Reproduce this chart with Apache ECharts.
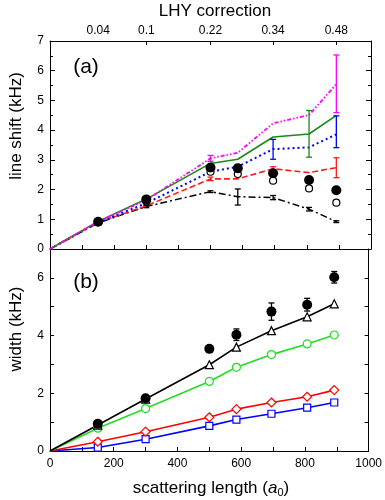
<!DOCTYPE html>
<html>
<head>
<meta charset="utf-8">
<script src="https://cdn.jsdelivr.net/npm/echarts@6/dist/echarts.min.js"></script>
<style>html,body{margin:0;padding:0;background:#fff}#c{width:385px;height:500px}</style>
</head>
<body>
<div id="c"></div>
<script>
// ---------- data ----------
const scatLen = [150, 300, 500, 585, 695, 807, 892];
const lineX = [0, 150, 300, 500, 585, 695, 807, 892];
const lhyTickPos = [150, 300, 500, 695, 892];
const lhyTickLabels = ['0.04', '0.1', '0.22', '0.34', '0.48'];
const lhyTickMarks = [300, 500, 695, 892];

// panel (a): line shift (kHz)
const shiftMeasured = [0.92, 1.67, 2.74, 2.72, 2.55, 2.32, 1.98];
const shiftMeasuredErr = [0.06, 0.08, 0.1, 0.12, 0.1, 0.1, 0.1];
const shiftOpen = [0.9, 1.6, 2.6, 2.52, 2.3, 2.04, 1.56];
const shiftMagenta = [0, 0.92, 1.65, 3.05, 3.24, 4.23, 4.51, 5.55];
const shiftGreen = [0, 0.93, 1.68, 2.88, 3.02, 3.77, 3.87, 4.5];
const shiftBlue = [0, 0.9, 1.54, 2.6, 2.77, 3.36, 3.42, 3.86];
const shiftRed = [0, 0.9, 1.45, 2.36, 2.36, 2.7, 2.57, 2.74];
const shiftBlack = [0, 0.88, 1.43, 1.93, 1.76, 1.73, 1.34, 0.92];
// error bars [x, low, high]
const magentaBars = [[500, 2.95, 3.15], [892, 4.59, 6.53]];
const greenBars = [[807, 3.09, 4.66]];
const blueBars = [[695, 3.02, 3.69], [892, 3.41, 4.48]];
const redBars = [[500, 2.3, 2.42], [695, 2.63, 2.77], [892, 2.4, 3.07]];
const blackBars = [[300, 1.39, 1.47], [500, 1.9, 1.96], [585, 1.48, 2.02], [695, 1.66, 1.8], [807, 1.28, 1.4], [892, 0.89, 0.95]];

// panel (b): width (kHz)
const widthMeasured = [0.94, 1.83, 3.54, 4.03, 4.83, 5.07, 6.02];
const widthMeasuredErr = [0.05, 0.08, 0.1, 0.2, 0.3, 0.22, 0.2];
const widthTriangle = [0, 0.9, 1.8, 2.99, 3.6, 4.17, 4.65, 5.1];
const widthGreen = [0, 0.79, 1.47, 2.41, 2.9, 3.34, 3.71, 4.02];
const widthRed = [0, 0.32, 0.67, 1.17, 1.45, 1.68, 1.88, 2.11];
const widthBlue = [0, 0.12, 0.41, 0.87, 1.09, 1.29, 1.5, 1.68];

// ---------- helpers ----------
const FONT = 'Liberation Sans, Arial, sans-serif';
const zip = (xs, ys) => xs.map((x, i) => [x, ys[i]]);
const zipMarked = (xs, ys) => xs.map((x, i) => i === 0 ? {value: [x, ys[i]], symbol: 'none'} : [x, ys[i]]);
const symBars = (xs, ys, es) => xs.map((x, i) => [x, ys[i] - es[i], ys[i] + es[i]]);

function errSeries(bars, color, xi, yi, z) {
  return {
    type: 'custom', xAxisIndex: xi, yAxisIndex: yi, z: z || 3, silent: true,
    data: bars,
    encode: {x: 0, y: [1, 2]},
    renderItem: function (params, api) {
      const x = api.value(0), lo = api.value(1), hi = api.value(2);
      const p1 = api.coord([x, lo]), p2 = api.coord([x, hi]);
      const w = 3;
      const st = {stroke: color, lineWidth: 1.3};
      return {type: 'group', children: [
        {type: 'line', shape: {x1: p1[0], y1: p1[1], x2: p2[0], y2: p2[1]}, style: st},
        {type: 'line', shape: {x1: p1[0] - w, y1: p1[1], x2: p1[0] + w, y2: p1[1]}, style: st},
        {type: 'line', shape: {x1: p2[0] - w, y1: p2[1], x2: p2[0] + w, y2: p2[1]}, style: st}
      ]};
    }
  };
}

function lineA(ys, color, type, width) {
  return {type: 'line', xAxisIndex: 0, yAxisIndex: 0, data: zip(lineX, ys), showSymbol: false,
    symbol: 'none', lineStyle: {color: color, type: type, width: width || 1.5}, z: 2, animation: false};
}
function lineB(ys, color, symbol, size) {
  return {type: 'line', xAxisIndex: 2, yAxisIndex: 2, data: zipMarked(lineX, ys),
    symbol: symbol, symbolSize: size, showSymbol: true,
    lineStyle: {color: color, width: 1.6}, itemStyle: {color: '#fff', borderColor: color, borderWidth: 1.2, opacity: 1},
    z: 2, animation: false};
}

const axisLine = {show: true, onZero: false, lineStyle: {color: '#000', width: 1}};
const lbl = {color: '#000', fontFamily: FONT, fontSize: 12};

const option = {
  animation: false,
  backgroundColor: '#fff',
  grid: [
    {left: 50, top: 41, width: 321, height: 208},
    {left: 50, top: 249, width: 321, height: 202}
  ],
  xAxis: [
    {gridIndex: 0, type: 'value', min: 0, max: 1000, interval: 100, position: 'bottom',
      axisLine: axisLine, axisTick: {inside: true, length: 4, lineStyle: {color: '#000'}},
      axisLabel: {show: false}, splitLine: {show: false}},
    {gridIndex: 0, type: 'value', min: 0, max: 1000, position: 'top',
      axisLine: axisLine,
      axisTick: {inside: true, length: 4, customValues: lhyTickMarks, lineStyle: {color: '#000'}},
      axisLabel: Object.assign({}, lbl, {margin: 4, customValues: lhyTickPos,
        formatter: v => lhyTickLabels[lhyTickPos.indexOf(v)] || ''}),
      splitLine: {show: false}},
    {gridIndex: 1, type: 'value', min: 0, max: 1000, interval: 100, position: 'bottom',
      axisLine: axisLine, axisTick: {inside: true, length: 4, lineStyle: {color: '#000'}},
      axisLabel: Object.assign({}, lbl, {margin: 7, formatter: v => (v % 200 === 0 ? String(v) : '')}),
      splitLine: {show: false}}
  ],
  yAxis: [
    {gridIndex: 0, type: 'value', min: 0, max: 7, interval: 1, position: 'left',
      axisLine: axisLine, axisTick: {inside: true, length: 5, lineStyle: {color: '#000'}},
      minorTick: {show: true, splitNumber: 2, length: 3, lineStyle: {color: '#000'}},
      axisLabel: Object.assign({}, lbl, {margin: 6}), splitLine: {show: false}},
    {gridIndex: 0, type: 'value', min: 0, max: 7, interval: 1, position: 'right',
      axisLine: axisLine, axisTick: {inside: true, length: 5, lineStyle: {color: '#000'}},
      minorTick: {show: true, splitNumber: 2, length: 3, lineStyle: {color: '#000'}},
      axisLabel: {show: false}, splitLine: {show: false}},
    {gridIndex: 1, type: 'value', min: 0, max: 7, interval: 1, position: 'left',
      axisLine: axisLine, axisTick: {inside: true, length: 4, lineStyle: {color: '#000'}},
      axisLabel: Object.assign({}, lbl, {margin: 6, formatter: v => (v % 2 === 0 ? String(v) : '')}),
      splitLine: {show: false}},
    {gridIndex: 1, type: 'value', min: 0, max: 7, interval: 1, position: 'right',
      axisLine: axisLine, axisTick: {inside: true, length: 4, lineStyle: {color: '#000'}},
      axisLabel: {show: false}, splitLine: {show: false}}
  ],
  graphic: [
    {type: 'text', x: 215, y: 11, style: {text: 'LHY correction', font: '17px ' + FONT, fill: '#000', textAlign: 'center', textVerticalAlign: 'middle'}},
    {type: 'text', x: 16, y: 126, rotation: Math.PI / 2, style: {text: 'line shift (kHz)', font: '17px ' + FONT, fill: '#000', textAlign: 'center', textVerticalAlign: 'middle'}},
    {type: 'text', x: 16, y: 329, rotation: Math.PI / 2, style: {text: 'width (kHz)', font: '17px ' + FONT, fill: '#000', textAlign: 'center', textVerticalAlign: 'middle'}},
    {type: 'text', x: 86, y: 67, style: {text: '(a)', font: '21px ' + FONT, fill: '#000', textAlign: 'center', textVerticalAlign: 'middle'}},
    {type: 'text', x: 86, y: 282, style: {text: '(b)', font: '21px ' + FONT, fill: '#000', textAlign: 'center', textVerticalAlign: 'middle'}},
    {type: 'text', x: 211, y: 488, style: {
      text: 'scattering length ({i|a}{s|0})', font: '17px ' + FONT, fill: '#000', textAlign: 'center', textVerticalAlign: 'middle',
      rich: {i: {fontStyle: 'italic', fontSize: 17, fontFamily: FONT}, s: {fontSize: 11, fontFamily: FONT, padding: [9, 0, 0, 0]}}}}
  ],
  series: [
    // panel (a)
    lineA(shiftBlack, '#000', [7, 3, 2, 3], 1.5),
    lineA(shiftRed, '#ff1a1a', [6, 3], 1.6),
    lineA(shiftBlue, '#0000ff', [2, 3], 2),
    lineA(shiftGreen, '#1a8a1a', 'solid', 1.6),
    lineA(shiftMagenta, '#ff00ff', [4, 2, 1.5, 2, 1.5, 2], 1.8),
    errSeries(blackBars, '#000', 0, 0),
    errSeries(redBars, '#ff1a1a', 0, 0),
    errSeries(blueBars, '#0000ff', 0, 0),
    errSeries(greenBars, '#1a8a1a', 0, 0),
    errSeries(magentaBars, '#ff00ff', 0, 0),
    {type: 'scatter', xAxisIndex: 0, yAxisIndex: 0, data: zip(scatLen, shiftOpen), symbol: 'circle', symbolSize: 7,
      itemStyle: {color: '#fff', borderColor: '#000', borderWidth: 1.2, opacity: 1}, z: 4},
    errSeries(symBars(scatLen, shiftMeasured, shiftMeasuredErr), '#000', 0, 0, 5),
    {type: 'scatter', xAxisIndex: 0, yAxisIndex: 0, data: zip(scatLen, shiftMeasured), symbol: 'circle', symbolSize: 10,
      itemStyle: {color: '#000', opacity: 1}, z: 5},
    // panel (b)
    lineB(widthBlue, '#0000ff', 'rect', 7),
    lineB(widthRed, '#ff0000', 'diamond', 9),
    lineB(widthGreen, '#22dd22', 'circle', 8),
    lineB(widthTriangle, '#000', 'triangle', 8),
    errSeries(symBars(scatLen, widthMeasured, widthMeasuredErr), '#000', 2, 2, 5),
    {type: 'scatter', xAxisIndex: 2, yAxisIndex: 2, data: zip(scatLen, widthMeasured), symbol: 'circle', symbolSize: 10,
      itemStyle: {color: '#000', opacity: 1}, z: 5}
  ]
};

const chart = echarts.init(document.getElementById('c'), null, {renderer: 'canvas'});
chart.setOption(option);
</script>
</body>
</html>
